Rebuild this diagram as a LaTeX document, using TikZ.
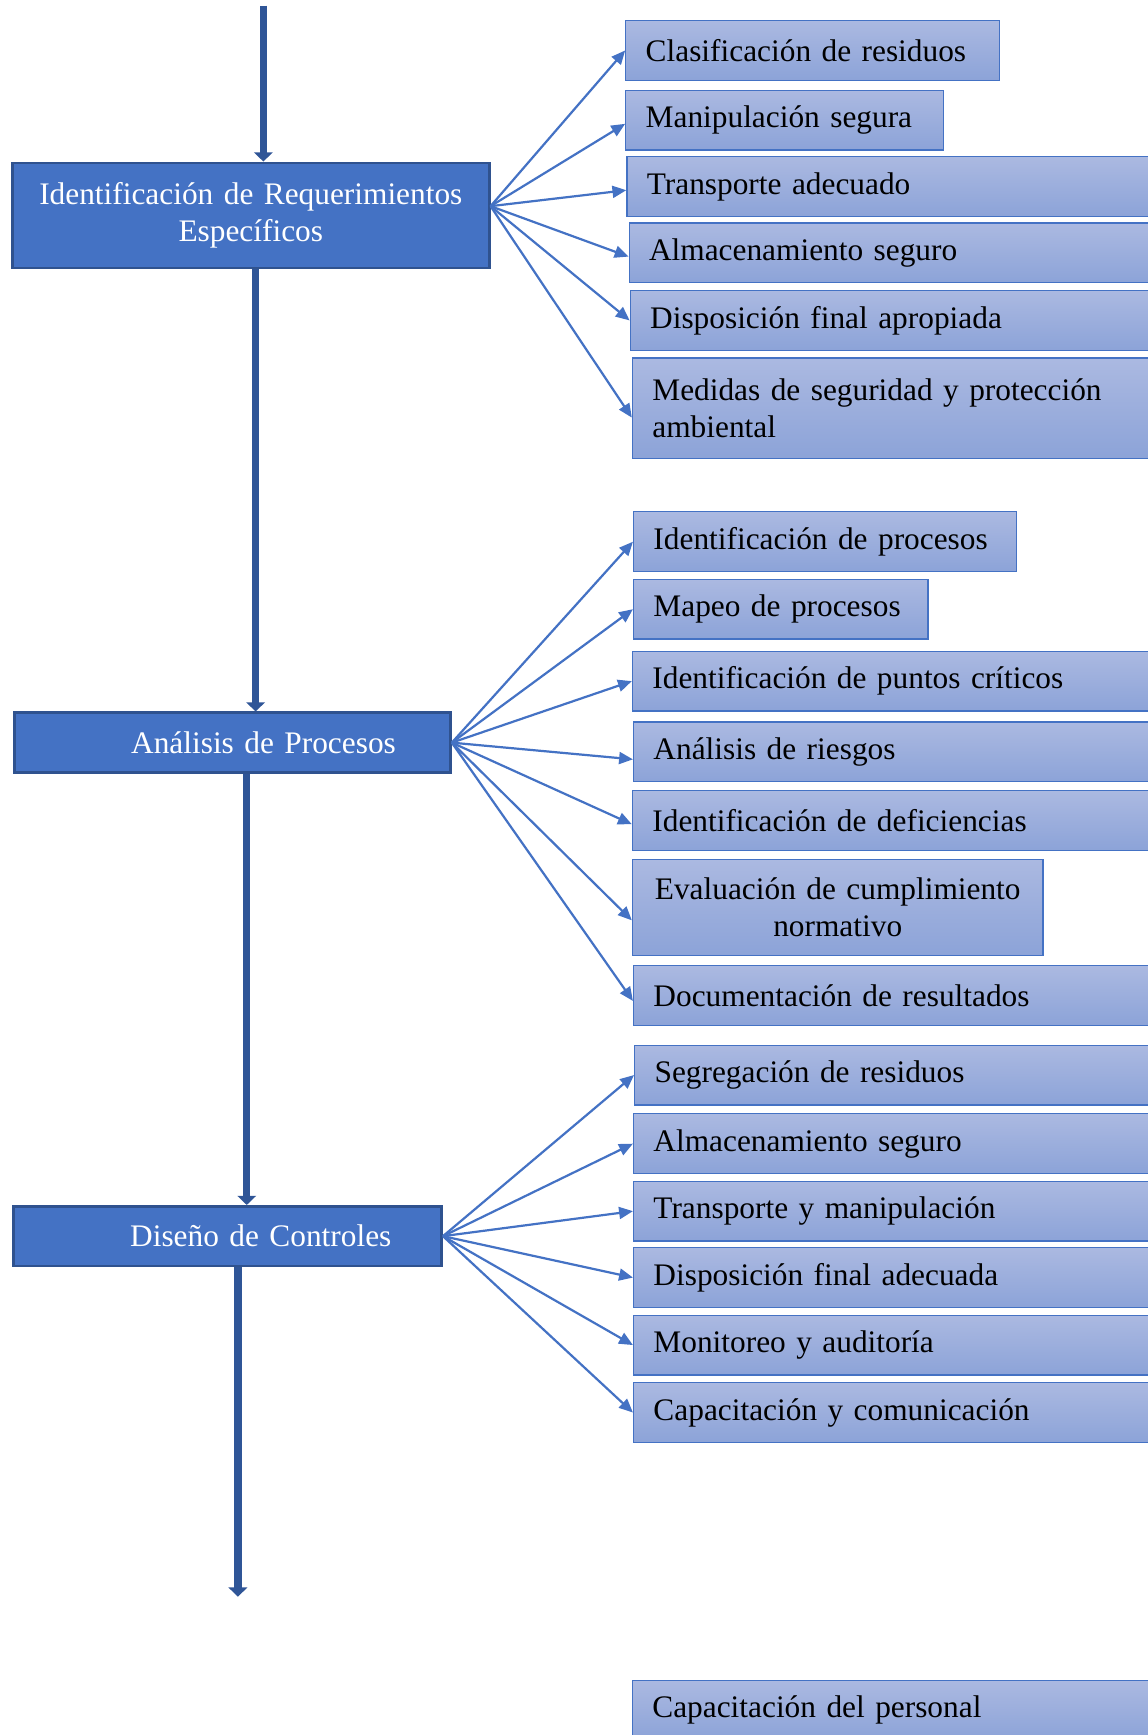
\documentclass[tikz,border=0pt]{standalone}
\usepackage{fontspec}
\setmainfont{Liberation Serif}
\usetikzlibrary{arrows.meta}
\definecolor{accent}{HTML}{4472C4}
\definecolor{mainedge}{HTML}{2F528F}
\definecolor{flowcolor}{HTML}{2F5597}
\definecolor{subtop}{HTML}{ABB9E1}
\definecolor{subbot}{HTML}{8CA3D8}
\newcommand{\diagfont}{\fontsize{17pt}{20.4pt}\selectfont}

\begin{document}
\begin{tikzpicture}[x=0.6pt, y=-0.6pt,
    every node/.style={font=\diagfont},
    stage/.style={draw=mainedge, fill=accent, line width=1.4pt, text=white,
                  anchor=north west, align=center, inner xsep=4pt,
                  minimum height=32.4pt},
    subbox/.style={draw=accent, top color=subtop, bottom color=subbot,
                   line width=0.7pt, anchor=north west, align=left,
                   inner xsep=10.8pt, minimum height=32.4pt},
    wide/.style={subbox, text width=280pt},
    flow/.style={-{Triangle[length=5pt, width=10pt]}, line width=4pt, draw=flowcolor},
    arr/.style={-{Triangle[length=7.5pt, width=6.5pt]}, line width=1.2pt, draw=accent}
]
    \useasboundingbox (0,0) rectangle (1037,1568);

    % Stages (left column)
    \node[stage, minimum height=57pt, text width=250.6pt] (req) at (10,146)
        {Identificación de Requerimientos\\Específicos};
    \node[stage, text width=228.4pt] (ana) at (12,643) {\hspace*{33.6pt}Análisis de Procesos};
    \node[stage, text width=224.2pt] (dis) at (11,1089) {\hspace*{36pt}Diseño de Controles};

    % Requirements
    \node[subbox, text width=181.2pt] (cla) at (565,18) {Clasificación de residuos};
    \node[subbox, text width=150.6pt] (man) at (565,81) {Manipulación segura};
    \node[wide] (tra) at (566,141) {Transporte adecuado};
    \node[wide] (alm) at (568,201) {Almacenamiento seguro};
    \node[wide] (dfa) at (569,262) {Disposición final apropiada};
    \node[wide, minimum height=54.6pt] (med) at (571,323)
        {Medidas de seguridad y protección\\ambiental};

    % Process analysis
    \node[subbox, text width=186pt] (idp) at (572,462) {Identificación de procesos};
    \node[subbox, text width=138pt] (map) at (572,523) {Mapeo de procesos};
    \node[wide] (ipc) at (571,588) {Identificación de puntos críticos};
    \node[wide] (ari) at (572,652) {Análisis de riesgos};
    \node[wide] (ide) at (571,714) {Identificación de deficiencias};
    \node[subbox, text width=201pt, align=center, minimum height=52.2pt] (ecn) at (571,776)
        {Evaluación de cumplimiento\\normativo};
    \node[wide] (doc) at (572,872) {Documentación de resultados};

    % Control design
    \node[wide] (seg) at (573,944) {Segregación de residuos};
    \node[wide] (als) at (572,1006) {Almacenamiento seguro};
    \node[wide] (tym) at (572,1067) {Transporte y manipulación};
    \node[wide] (dad) at (572,1127) {Disposición final adecuada};
    \node[wide] (mya) at (572,1188) {Monitoreo y auditoría};
    \node[wide] (cyc) at (572,1249) {Capacitación y comunicación};

    % Bottom
    \node[wide] (cdp) at (571,1518) {Capacitación del personal};

    % Arrows — main flow
    \coordinate (ini) at (238,5);
    \coordinate (fin) at (215,1443);
    \draw[flow] (ini) -- (ini |- req.north);
    \draw[flow] (req.south -| 231,0) -- (ana.north -| 231,0);
    \draw[flow] (ana.south -| 223,0) -- (dis.north -| 223,0);
    \draw[flow] (dis.south -| 215,0) -- (fin);

    % Arrows — requirements
    \draw[arr] ([yshift=5pt]req.east) -- (cla.west);
    \draw[arr] ([yshift=5pt]req.east) -- ([yshift=-2pt]man.west);
    \draw[arr] ([yshift=5pt]req.east) -- ([yshift=-2pt]tra.west);
    \draw[arr] ([yshift=5pt]req.east) -- ([yshift=-2pt]alm.west);
    \draw[arr] ([yshift=5pt]req.east) -- (dfa.west);
    \draw[arr] ([yshift=5pt]req.east) -- ([yshift=-5pt]med.west);

    % Arrows — process analysis
    \draw[arr] (ana.east) -- (idp.west);
    \draw[arr] (ana.east) -- (map.west);
    \draw[arr] (ana.east) -- (ipc.west);
    \draw[arr] (ana.east) -- ([yshift=-4pt]ari.west);
    \draw[arr] (ana.east) -- ([yshift=-2pt]ide.west);
    \draw[arr] (ana.east) -- ([yshift=-7pt]ecn.west);
    \draw[arr] (ana.east) -- ([yshift=-3pt]doc.west);

    % Arrows — control design
    \draw[arr] (dis.east) -- (seg.west);
    \draw[arr] (dis.east) -- (als.west);
    \draw[arr] (dis.east) -- (tym.west);
    \draw[arr] (dis.east) -- (dad.west);
    \draw[arr] (dis.east) -- (mya.west);
    \draw[arr] (dis.east) -- (cyc.west);
\end{tikzpicture}
\end{document}
